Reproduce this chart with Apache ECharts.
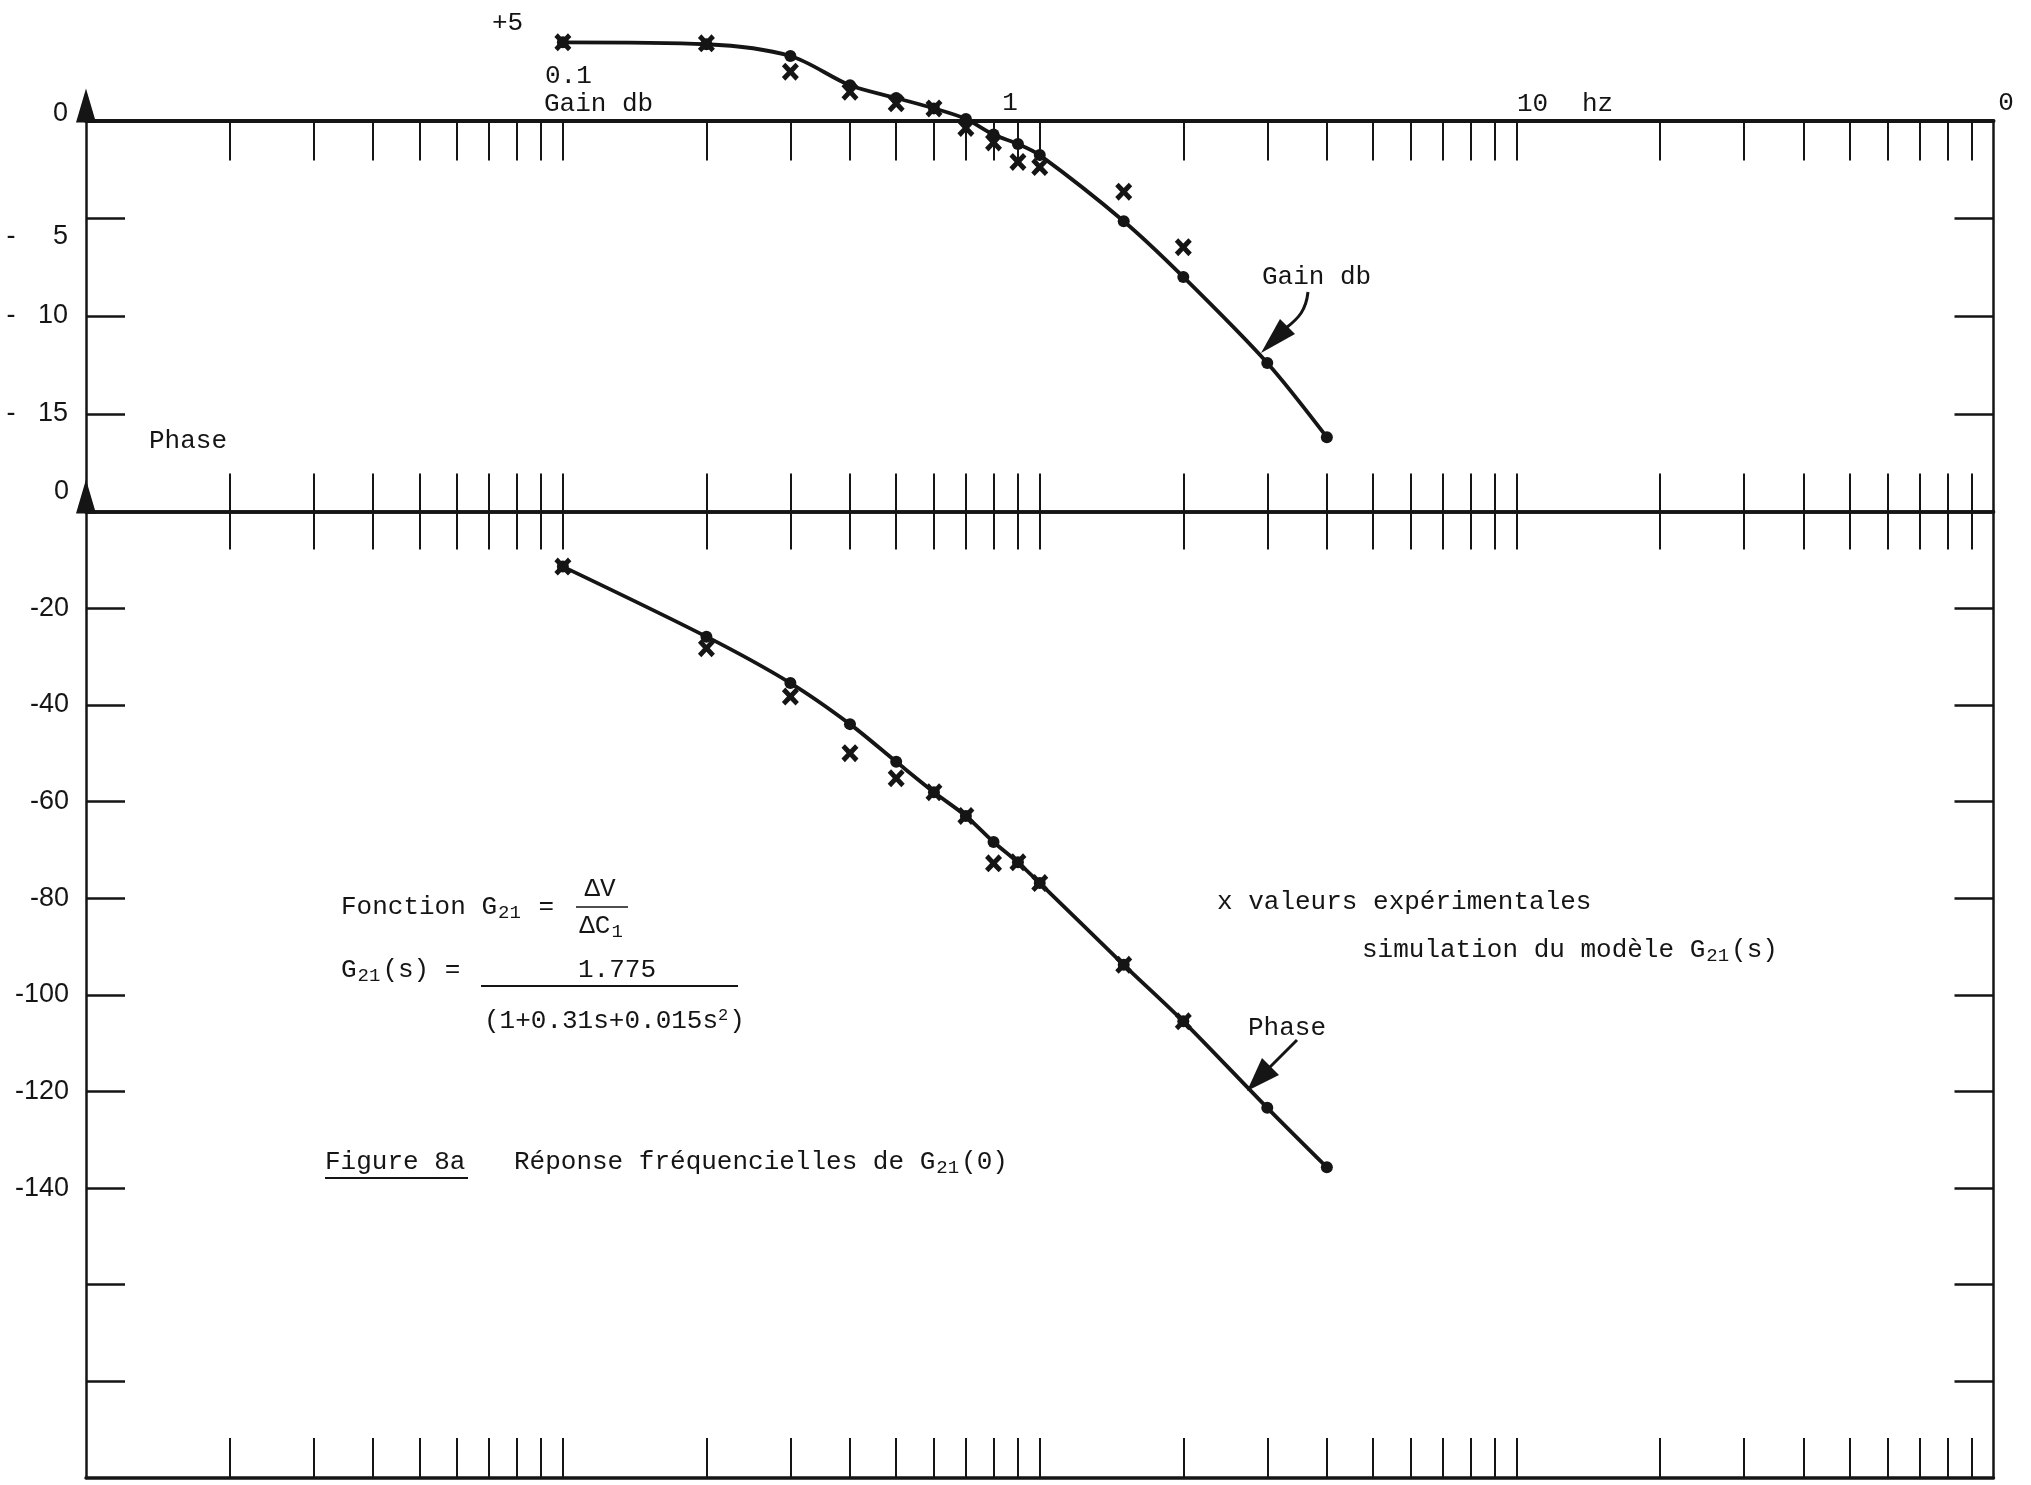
<!DOCTYPE html>
<html>
<head>
<meta charset="utf-8">
<script src="https://cdn.jsdelivr.net/npm/echarts@6/dist/echarts.min.js"></script>
<style>
  html, body { margin: 0; padding: 0; background: #ffffff; }
  #c { width: 2031px; height: 1485px; }
</style>
</head>
<body>
<div id="c"></div>
<script>
// Fréquences du modèle simulé (Hz) et réponses correspondantes
const freqSim  = [0.1, 0.2, 0.3, 0.4, 0.5, 0.6, 0.7, 0.8, 0.9, 1.0, 1.5, 2.0, 3.0, 4.0];
const gainSim  = [4.0, 3.9, 3.3, 1.8, 1.15, 0.62, 0.08, -0.72, -1.2, -1.77, -5.15, -8.0, -12.4, -16.2];
const phaseSim = [-11.4, -25.9, -35.5, -44.0, -51.8, -58.1, -63.0, -68.4, -72.6, -76.9, -93.8, -105.5, -123.4, -135.7];

// Valeurs expérimentales
const freqExp  = [0.1, 0.2, 0.3, 0.4, 0.5, 0.6, 0.7, 0.8, 0.9, 1.0, 1.5, 2.0];
const gainExp  = [4.0, 3.95, 2.5, 1.47, 0.88, 0.62, -0.38, -1.12, -2.12, -2.38, -3.64, -6.48];
const phaseExp = [-11.4, -28.3, -38.3, -50.0, -55.2, -58.1, -63.0, -72.8, -72.6, -76.9, -93.8, -105.5];

// Graduations logarithmiques (1..9 par décade)
const freqTicks = [0.02, 0.03, 0.04, 0.05, 0.06, 0.07, 0.08, 0.09, 0.1,
                   0.2, 0.3, 0.4, 0.5, 0.6, 0.7, 0.8, 0.9, 1,
                   2, 3, 4, 5, 6, 7, 8, 9, 10,
                   20, 30, 40, 50, 60, 70, 80, 90];
const gainTicks   = [-5, -10, -15];
const gainLabels  = [0, -5, -10, -15];
const phaseTicks  = [-20, -40, -60, -80, -100, -120, -140, -160, -180];
const phaseLabels = [0, -20, -40, -60, -80, -100, -120, -140];

const ink  = '#151515';
const mono = '"Liberation Mono", "DejaVu Sans Mono", monospace';
const sans = '"Liberation Sans", Arial, sans-serif';

const pairs = (xs, ys) => xs.map((x, i) => [x, ys[i]]);

// Marque « x » tapée à la machine
const crossPath = 'path://M2,0 L5,3 L8,0 L10,2 L7,5 L10,8 L8,10 L5,7 L2,10 L0,8 L3,5 L0,2 Z';

function freqAxis(gridIndex, position, tickLen, lineWidth) {
  return {
    type: 'log', logBase: 10, min: 0.01, max: 100,
    gridIndex: gridIndex, position: position,
    splitLine: { show: false },
    axisLabel: { show: false },
    axisLine: { show: true, onZero: false, lineStyle: { color: ink, width: lineWidth } },
    axisTick: { show: true, customValues: freqTicks, inside: true, length: tickLen,
                lineStyle: { color: ink, width: 2 } }
  };
}

function valueAxis(gridIndex, position, min, max, ticks, withArrow) {
  return {
    type: 'value', gridIndex: gridIndex, position: position, min: min, max: max,
    splitLine: { show: false },
    axisLine: {
      show: true, onZero: false,
      symbol: withArrow ? ['none', 'triangle'] : ['none', 'none'],
      symbolSize: [20, 34], symbolOffset: [0, 15],
      lineStyle: { color: ink, width: 2.5 }
    },
    axisTick: { show: true, customValues: ticks, inside: true, length: 39,
                lineStyle: { color: ink, width: 2.5 } },
    axisLabel: { show: false }
  };
}

const gainLeft = valueAxis(0, 'left', -20, 0, gainTicks, true);
gainLeft.axisLabel = {
  show: true, customValues: gainLabels, margin: 18,
  color: ink, fontFamily: sans, fontSize: 27,
  formatter: function (v) {
    if (v === 0) return '{up|0}';
    if (v === -5) return '{dn|-     5}';
    return '-   ' + (-v);
  },
  rich: {
    up: { fontFamily: sans, fontSize: 27, color: ink, padding: [0, 0, 14, 0] },
    dn: { fontFamily: sans, fontSize: 27, color: ink, padding: [36, 0, 0, 0] }
  }
};

const phaseLeft = valueAxis(1, 'left', -200, 0, phaseTicks, true);
phaseLeft.axisLabel = {
  show: true, customValues: phaseLabels, margin: 17,
  color: ink, fontFamily: sans, fontSize: 27,
  formatter: function (v) { return v === 0 ? '{up|0}' : String(v); },
  rich: { up: { fontFamily: sans, fontSize: 27, color: ink, padding: [0, 0, 40, 0] } }
};

// Texte tapé ; {s|…} indices, {p|…} exposants
const richStyles = {
  m: { fontSize: 26, fontFamily: mono, fill: ink, verticalAlign: 'middle' },
  s: { fontSize: 19, fontFamily: mono, fill: ink, verticalAlign: 'middle', padding: [11, 2, 0, 1] },
  p: { fontSize: 17, fontFamily: mono, fill: ink, verticalAlign: 'middle', padding: [0, 1, 12, 0] }
};
function txt(text, x, y, align) {
  return {
    type: 'text', x: x, y: y, silent: true,
    style: { text: text, fontSize: 26, fontFamily: mono, fill: ink, rich: richStyles,
             textAlign: align || 'left', textVerticalAlign: 'middle' }
  };
}
function rule(x1, y1, x2, y2, w) {
  return { type: 'line', silent: true, shape: { x1: x1, y1: y1, x2: x2, y2: y2 },
           style: { stroke: ink, lineWidth: w || 2 } };
}

const option = {
  animation: false,
  backgroundColor: '#ffffff',
  grid: [
    { left: 86, right: 37.5, top: 120.5, height: 391 },
    { left: 86, right: 37.5, top: 511.5, height: 966.5 }
  ],
  xAxis: [
    freqAxis(0, 'top', 40, 4),
    freqAxis(0, 'bottom', 38, 3.5),
    freqAxis(1, 'top', 38, 3.5),
    freqAxis(1, 'bottom', 40, 3.5)
  ],
  yAxis: [
    gainLeft,
    valueAxis(0, 'right', -20, 0, gainTicks, false),
    phaseLeft,
    valueAxis(1, 'right', -200, 0, phaseTicks, false)
  ],
  series: [
    {
      type: 'line', name: 'Gain db', xAxisIndex: 0, yAxisIndex: 0,
      data: pairs(freqSim, gainSim), smooth: 0.3, clip: false,
      symbol: 'circle', symbolSize: 12, showAllSymbol: true,
      lineStyle: { color: ink, width: 3.8 }, itemStyle: { color: ink }, z: 3
    },
    {
      type: 'scatter', name: 'x gain', xAxisIndex: 0, yAxisIndex: 0,
      data: pairs(freqExp, gainExp), clip: false,
      symbol: crossPath, symbolSize: [17, 18], itemStyle: { color: ink, opacity: 1 }, z: 4
    },
    {
      type: 'line', name: 'Phase', xAxisIndex: 2, yAxisIndex: 2,
      data: pairs(freqSim, phaseSim), smooth: 0.3, clip: false,
      symbol: 'circle', symbolSize: 12, showAllSymbol: true,
      lineStyle: { color: ink, width: 3.8 }, itemStyle: { color: ink }, z: 3
    },
    {
      type: 'scatter', name: 'x phase', xAxisIndex: 2, yAxisIndex: 2,
      data: pairs(freqExp, phaseExp), clip: false,
      symbol: crossPath, symbolSize: [17, 18], itemStyle: { color: ink, opacity: 1 }, z: 4
    }
  ],
  graphic: [
    // en-tête de l'axe des fréquences
    txt('+5', 492, 23),
    txt('0.1', 545, 76),
    txt('Gain db', 544, 104),
    txt('1', 1010, 103, 'center'),
    txt('10', 1517, 104),
    txt('hz', 1582, 104),
    txt('0', 2006, 103, 'center'),
    txt('Phase', 149, 441),

    // annotation du gain
    txt('Gain db', 1262, 277),
    { type: 'bezierCurve', silent: true,
      shape: { x1: 1308, y1: 292, cpx1: 1306, cpy1: 310, cpx2: 1299, cpy2: 318, x2: 1286, y2: 328 },
      style: { stroke: ink, lineWidth: 3, fill: null } },
    { type: 'polygon', silent: true,
      shape: { points: [[1261, 353], [1295, 334], [1280, 319]] },
      style: { fill: ink } },

    // annotation de la phase
    txt('Phase', 1248, 1028),
    rule(1297, 1040, 1268, 1069, 3),
    { type: 'polygon', silent: true,
      shape: { points: [[1247, 1091], [1279, 1075], [1262, 1058]] },
      style: { fill: ink } },

    // légende
    txt('x valeurs expérimentales', 1217, 902),
    txt('{m|simulation du modèle G}{s|21}{m|(s)}', 1362, 950),

    // fonction de transfert
    txt('{m|Fonction G}{s|21}{m| =}', 341, 907),
    txt('ΔV', 600, 889, 'center'),
    rule(576, 907, 628, 907, 1.5),
    txt('{m|ΔC}{s|1}', 602, 926, 'center'),
    txt('{m|G}{s|21}{m|(s) =}', 341, 970),
    txt('1.775', 578, 970),
    rule(481, 986, 738, 986, 2),
    txt('{m|(1+0.31s+0.015s}{p|2}{m|)}', 484, 1021),

    // titre
    txt('Figure 8a', 325, 1162),
    rule(325, 1178, 468, 1178, 2),
    txt('{m|Réponse fréquencielles de G}{s|21}{m|(0)}', 514, 1162)
  ]
};

const chart = echarts.init(document.getElementById('c'), null, { renderer: 'canvas' });
chart.setOption(option);
</script>
</body>
</html>
